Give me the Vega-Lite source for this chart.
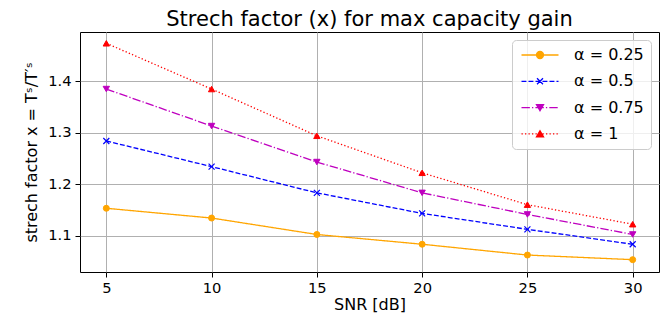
{
  "$schema": "https://vega.github.io/schema/vega-lite/v6.json",
  "width": 579,
  "height": 240,
  "autosize": {"type": "none"},
  "padding": {"left": 80, "top": 32, "right": 12, "bottom": 43},
  "title": {"text": "Strech factor (x) for max capacity gain", "fontSize": 21, "font": "DejaVu Sans", "fontWeight": "normal", "color": "black", "anchor": "middle", "offset": 2},
  "config": {
    "font": "DejaVu Sans",
    "view": {"stroke": "black", "strokeWidth": 1},
    "axis": {
      "gridColor": "#b0b0b0", "gridWidth": 1, "gridOpacity": 1, "domain": false,
      "tickColor": "black", "tickWidth": 1, "tickSize": 5,
      "labelColor": "black", "labelFontSize": 14.7, "labelFont": "DejaVu Sans",
      "titleFontSize": 16, "titleFontWeight": "normal", "titleColor": "black", "titleFont": "DejaVu Sans"
    },
    "legend": {
      "orient": "top-right", "offset": 8, "padding": 7,
      "fillColor": "rgba(255,255,255,0.8)", "strokeColor": "#cccccc", "cornerRadius": 4,
      "rowPadding": 10.3, "labelFontSize": 16, "labelColor": "black", "labelFont": "DejaVu Sans",
      "symbolSize": 100, "symbolStrokeWidth": 1.3, "symbolOpacity": 1,
      "symbolOffset": 13, "labelOffset": 26
    }
  },
  "data": {
    "values": [
      {"snr": 5, "x": 1.153, "alpha": "α = 0.25"},
      {"snr": 10, "x": 1.134, "alpha": "α = 0.25"},
      {"snr": 15, "x": 1.102, "alpha": "α = 0.25"},
      {"snr": 20, "x": 1.083, "alpha": "α = 0.25"},
      {"snr": 25, "x": 1.062, "alpha": "α = 0.25"},
      {"snr": 30, "x": 1.053, "alpha": "α = 0.25"},
      {"snr": 5, "x": 1.284, "alpha": "α = 0.5"},
      {"snr": 10, "x": 1.234, "alpha": "α = 0.5"},
      {"snr": 15, "x": 1.183, "alpha": "α = 0.5"},
      {"snr": 20, "x": 1.143, "alpha": "α = 0.5"},
      {"snr": 25, "x": 1.112, "alpha": "α = 0.5"},
      {"snr": 30, "x": 1.083, "alpha": "α = 0.5"},
      {"snr": 5, "x": 1.385, "alpha": "α = 0.75"},
      {"snr": 10, "x": 1.313, "alpha": "α = 0.75"},
      {"snr": 15, "x": 1.243, "alpha": "α = 0.75"},
      {"snr": 20, "x": 1.183, "alpha": "α = 0.75"},
      {"snr": 25, "x": 1.141, "alpha": "α = 0.75"},
      {"snr": 30, "x": 1.102, "alpha": "α = 0.75"},
      {"snr": 5, "x": 1.474, "alpha": "α = 1"},
      {"snr": 10, "x": 1.385, "alpha": "α = 1"},
      {"snr": 15, "x": 1.294, "alpha": "α = 1"},
      {"snr": 20, "x": 1.222, "alpha": "α = 1"},
      {"snr": 25, "x": 1.160, "alpha": "α = 1"},
      {"snr": 30, "x": 1.122, "alpha": "α = 1"}
    ]
  },
  "encoding": {
    "x": {"field": "snr", "type": "quantitative", "title": "SNR [dB]",
          "scale": {"domain": [3.75, 31.25], "nice": false, "zero": false},
          "axis": {"values": [5, 10, 15, 20, 25, 30], "labelPadding": 3, "titlePadding": 2}},
    "y": {"field": "x", "type": "quantitative", "title": "strech factor x = Tˢ/T′ˢ",
          "scale": {"domain": [1.029, 1.496], "nice": false, "zero": false},
          "axis": {"values": [1.1, 1.2, 1.3, 1.4], "format": ".1f", "labelPadding": 4, "titlePadding": 8}}
  },
  "layer": [
    {
      "mark": {"type": "line", "strokeWidth": 1.3},
      "encoding": {
        "color": {"field": "alpha", "type": "nominal", "legend": null,
              "scale": {"domain": ["α = 0.25", "α = 0.5", "α = 0.75", "α = 1"], "range": ["#ffa500", "#0000ff", "#bf00bf", "#ff0000"]}},
        "strokeDash": {"field": "alpha", "type": "nominal", "legend": null,
                  "scale": {"domain": ["α = 0.25", "α = 0.5", "α = 0.75", "α = 1"], "range": [[1, 0], [4.9, 2.1], [8.4, 2.1, 1.3, 2.1], [1.3, 2.2]]}}
      }
    },
    {
      "transform": [{"filter": "datum.alpha == 'α = 0.25'"}],
      "mark": {"type": "point", "filled": true, "shape": "circle", "size": 36, "opacity": 1, "color": "#ffa500", "stroke": "#ffa500", "strokeWidth": 1}
    },
    {
      "transform": [{"filter": "datum.alpha == 'α = 0.5'"}],
      "mark": {"type": "point", "filled": false, "shape": "M-1,-1L1,1M-1,1L1,-1", "size": 36, "opacity": 1, "color": "#0000ff", "strokeWidth": 1.2}
    },
    {
      "transform": [{"filter": "datum.alpha == 'α = 0.75'"}],
      "mark": {"type": "point", "filled": true, "shape": "triangle-down", "size": 40, "opacity": 1, "color": "#bf00bf", "stroke": "#bf00bf", "strokeWidth": 1}
    },
    {
      "transform": [{"filter": "datum.alpha == 'α = 1'"}],
      "mark": {"type": "point", "filled": true, "shape": "triangle-up", "size": 40, "opacity": 1, "color": "#ff0000", "stroke": "#ff0000", "strokeWidth": 1}
    },
    {
      "mark": {"type": "point", "filled": true, "opacity": 0},
      "encoding": {
        "fill": {"field": "alpha", "type": "nominal", "title": null,
                 "scale": {"range": ["#ffa500", "#0000ff", "#bf00bf", "#ff0000"]}},
        "stroke": {"field": "alpha", "type": "nominal", "title": null,
                 "scale": {"range": ["#ffa500", "#0000ff", "#bf00bf", "#ff0000"]}},
        "shape": {"field": "alpha", "type": "nominal", "title": null,
                  "scale": {"range": [
                    "M-3.7,0H3.7M-0.7,0A0.7,0.7 0 1,0 0.7,0A0.7,0.7 0 1,0 -0.7,0Z",
                    "M-3.7,0H-2.72M-2.3,0H-1.32M-0.9,0H0.08M0.5,0H1.48M1.9,0H2.88M3.3,0H3.7M-0.6,-0.6L0.6,0.6M-0.6,0.6L0.6,-0.6",
                    "M-3.7,0H-2.02M-1.6,0H-1.34M-0.92,0H0.76M1.18,0H1.44M1.86,0H3.54M-0.7,-0.6L0.7,-0.6L0,0.6Z",
                    "M-3.7,0H-3.44M-3,0H-2.74M-2.3,0H-2.04M-1.6,0H-1.34M-0.9,0H-0.64M-0.2,0H0.06M0.5,0H0.76M1.2,0H1.46M1.9,0H2.16M2.6,0H2.86M3.3,0H3.56M-0.7,0.6L0.7,0.6L0,-0.6Z"
                  ]}}
      }
    }
  ]
}
